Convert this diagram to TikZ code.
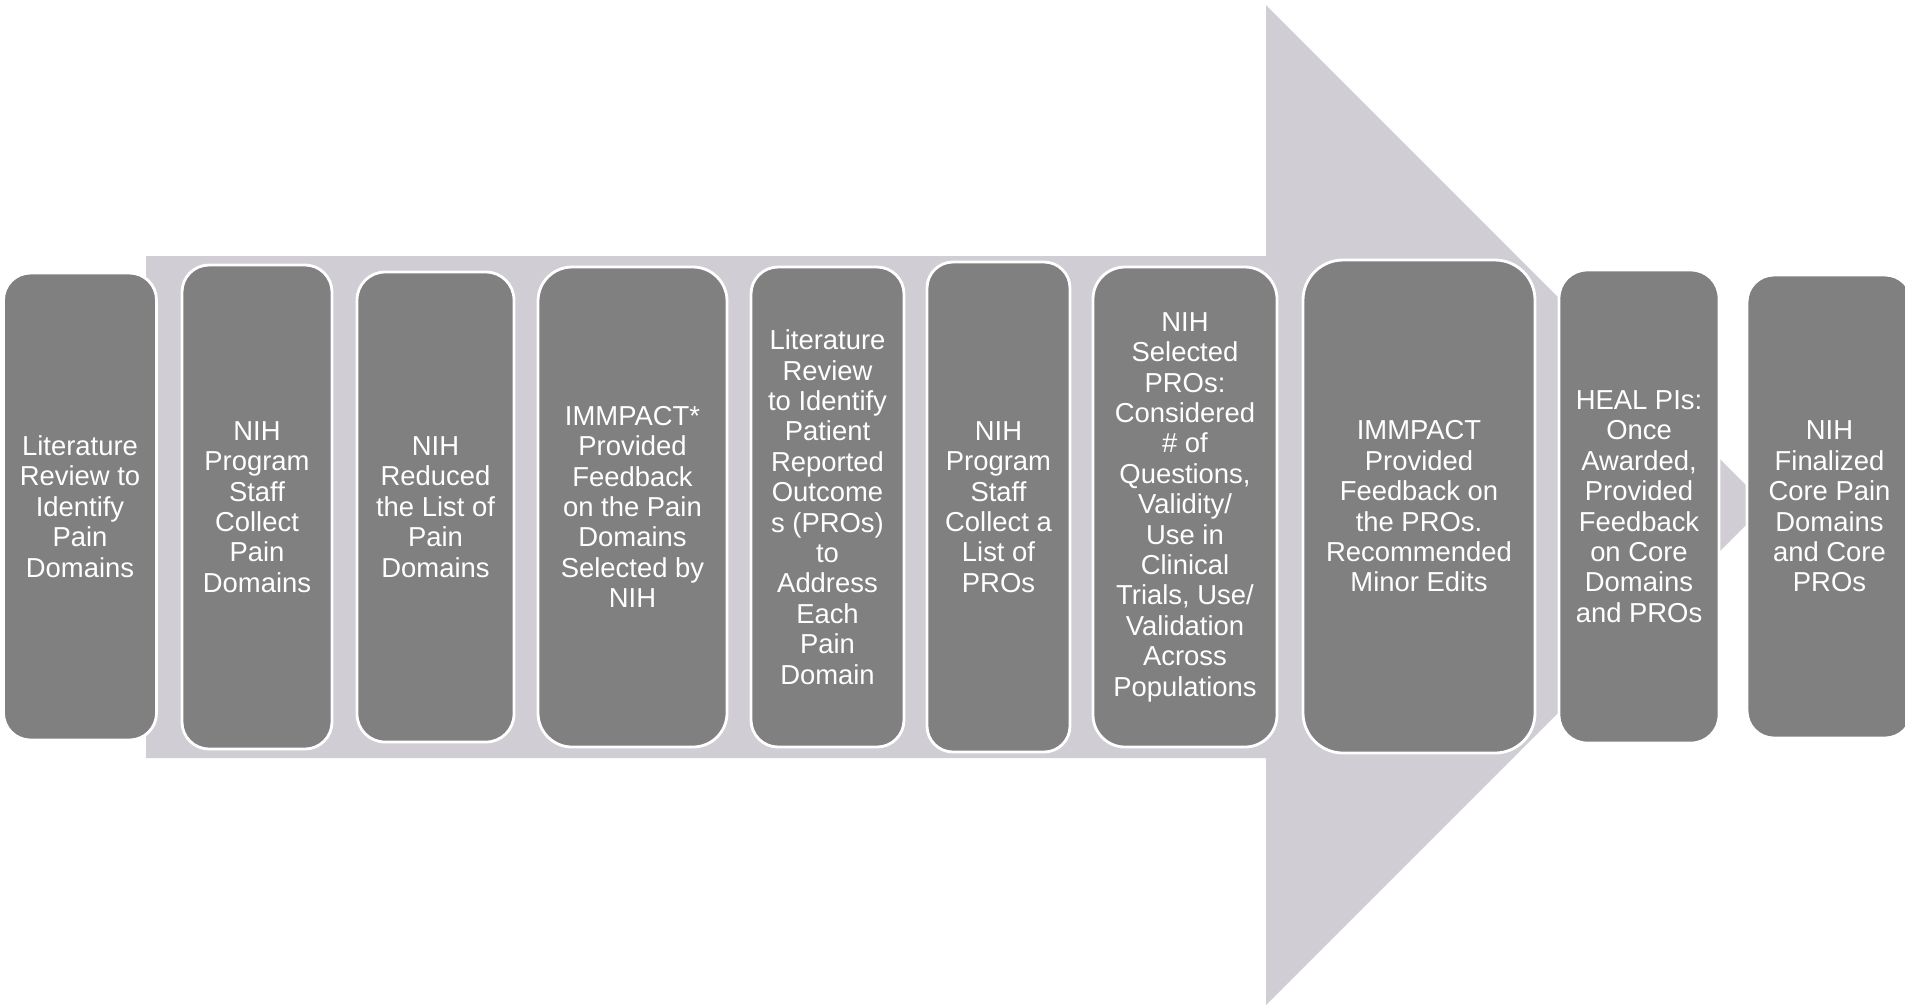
\documentclass[tikz,border=0pt]{standalone}
\usepackage{fontspec}
\setmainfont{Liberation Sans}
\usepackage{tikz}
\usetikzlibrary{positioning,calc}
\usepackage{xcolor}
\definecolor{boxcol}{RGB}{128,128,128}
\definecolor{arrowcol}{RGB}{209,205,213}
\tikzset{
  % process step box
  stepbox/.style={rectangle, rounded corners=#1, draw=white, line width=0.8pt, fill=boxcol,
                  text=white, align=center, inner sep=2pt,
                  font=\fontsize{7.8pt}{8.65pt}\selectfont},
  stepbox/.default={0.27cm},
  % big background arrow
  bigarrow/.style={fill=arrowcol, draw=none},
}
\begin{document}
\begin{tikzpicture}
  \useasboundingbox (0,0) rectangle (19.05,-10.06);

  % background arrow
  \fill[bigarrow] (1.46,-2.56) -- (12.66,-2.56) -- (12.66,-0.05) -- (17.66,-5.05)
    -- (12.66,-10.05) -- (12.66,-7.58) -- (1.46,-7.58) -- cycle;

  % steps
  \node[stepbox=0.27cm, minimum width=1.53cm, minimum height=4.67cm] (s1) at (0.80,-5.065)
    {Literature\\Review to\\Identify\\Pain\\Domains};
  \node[stepbox=0.27cm, minimum width=1.50cm, minimum height=4.84cm] (s2) at (2.57,-5.07)
    {NIH\\Program\\Staff\\Collect\\Pain\\Domains};
  \node[stepbox=0.28cm, minimum width=1.57cm, minimum height=4.70cm] (s3) at (4.355,-5.07)
    {NIH\\Reduced\\the List of\\Pain\\Domains};
  \node[stepbox=0.34cm, minimum width=1.89cm, minimum height=4.80cm] (s4) at (6.325,-5.07)
    {IMMPACT*\\Provided\\Feedback\\on the Pain\\Domains\\Selected by\\NIH};
  \node[stepbox=0.27cm, minimum width=1.53cm, minimum height=4.80cm] (s5) at (8.275,-5.07)
    {Literature\\Review\\to Identify\\Patient\\Reported\\Outcome\\s (PROs)\\to\\Address\\Each\\Pain\\Domain};
  \node[stepbox=0.26cm, minimum width=1.43cm, minimum height=4.90cm] (s6) at (9.985,-5.07)
    {NIH\\Program\\Staff\\Collect a\\List of\\PROs};
  \node[stepbox=0.32cm, minimum width=1.84cm, minimum height=4.80cm] (s7) at (11.85,-5.07)
    {NIH\\Selected\\PROs:\\Considered\\\# of\\Questions,\\Validity/\\Use in\\Clinical\\Trials, Use/\\Validation\\Across\\Populations};
  \node[stepbox=0.40cm, minimum width=2.32cm, minimum height=4.93cm] (s8) at (14.19,-5.065)
    {IMMPACT\\Provided\\Feedback on\\the PROs.\\Recommended\\Minor Edits};
  \node[stepbox=0.28cm, minimum width=1.60cm, minimum height=4.73cm] (s9) at (16.39,-5.065)
    {HEAL PIs:\\Once\\Awarded,\\Provided\\Feedback\\on Core\\Domains\\and PROs};
  \node[stepbox=0.27cm, minimum width=1.65cm, minimum height=4.63cm] (s10) at (18.295,-5.065)
    {NIH\\Finalized\\Core Pain\\Domains\\and Core\\PROs};
\end{tikzpicture}
\end{document}
